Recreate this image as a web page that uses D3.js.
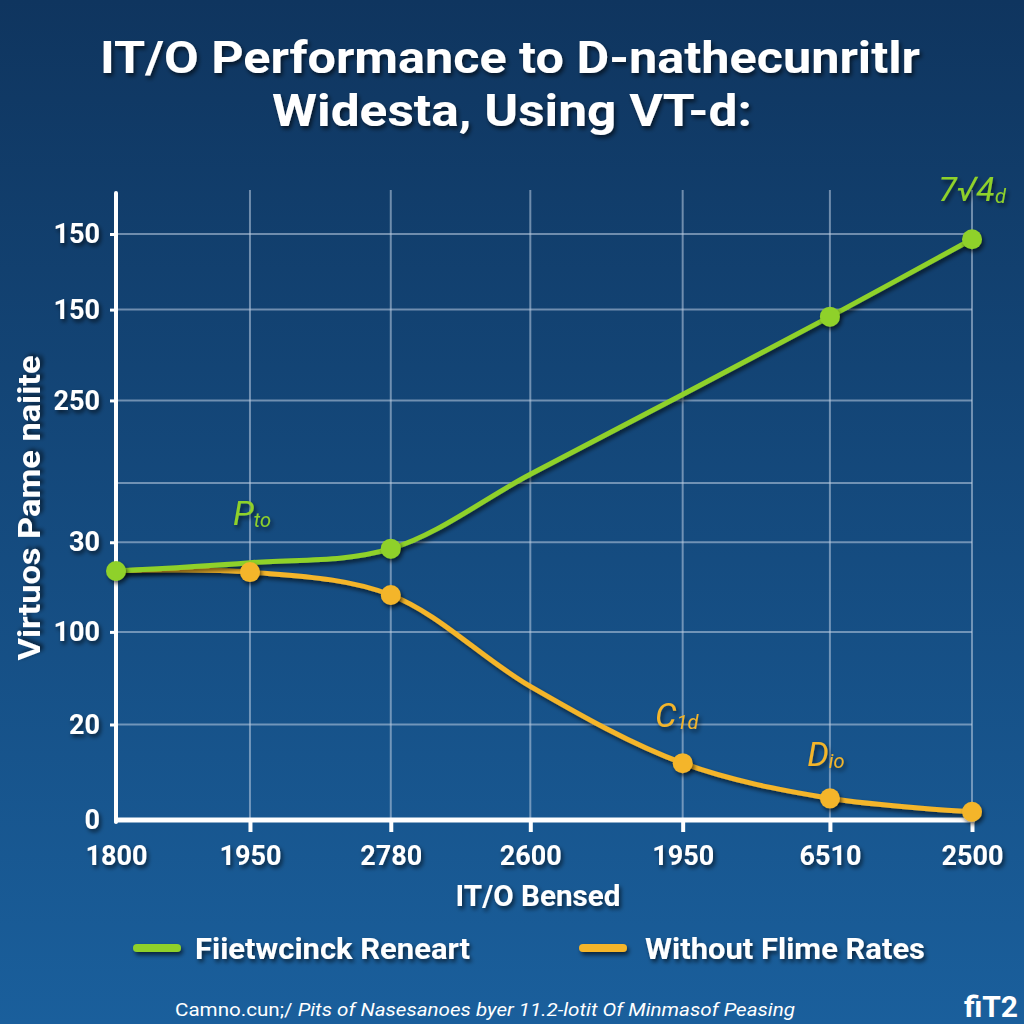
<!DOCTYPE html>
<html><head><meta charset="utf-8">
<script src="https://cdn.jsdelivr.net/npm/d3@7"></script>
<style>html,body{margin:0;padding:0;background:#134070}svg{display:block}</style>
</head><body>
<script>
// ---- data ----
const xLabels = ["1800","1950","2780","2600","1950","6510","2500"];
const xPos = [0, 15.65, 32.1, 48.4, 66.2, 83.4, 100];          // positions along the axis
const yTickLabels = ["150","150","250","","30","100","20","0"];
const yTickPos = [100, 87.1, 71.6, 57.5, 47.4, 32.1, 16.3, 0];
const seriesNames = ["Fiietwcinck Reneart", "Without Flime Rates"];
const greenValues = [42.5, 43.9, 46.3, 59.0, 72.6, 85.9, 99.1];
const greenMarkers = [true, false, true, false, false, true, true];
const orangeValues = [42.5, 42.3, 38.4, 22.8, 9.7, 3.7, 1.4];
const orangeMarkers = [false, true, true, false, true, true, true];
const annotations = [
  {series:0, i:1, main:"P", sub:"to"},
  {series:0, i:6, main:"7\u221A4", sub:"d"},
  {series:1, i:4, main:"C", sub:"1d"},
  {series:1, i:5, main:"D", sub:"io"}
];

const W = 1024, H = 1024;
const GREEN = "#8fd12a", ORANGE = "#f4b52a";
const svg = d3.select("body").append("svg").attr("width", W).attr("height", H);
const defs = svg.append("defs");
const grad = defs.append("linearGradient").attr("id","bg").attr("x1",0).attr("y1",0).attr("x2",0).attr("y2",1);
grad.append("stop").attr("offset","0%").attr("stop-color","#0f355f");
grad.append("stop").attr("offset","100%").attr("stop-color","#1a5f9c");
const sh = defs.append("filter").attr("id","sh").attr("filterUnits","userSpaceOnUse")
  .attr("x",-2*W).attr("y",-2*H).attr("width",5*W).attr("height",5*H);
sh.append("feDropShadow").attr("dx",2).attr("dy",3).attr("stdDeviation",2).attr("flood-color","#000").attr("flood-opacity",0.6);
svg.append("rect").attr("width",W).attr("height",H).attr("fill","url(#bg)");

const FONT = "Roboto, 'Liberation Sans', sans-serif";
const x = d3.scaleLinear().domain([0,100]).range([116, 972]);
const y = d3.scaleLinear().domain([0,100]).range([820, 234]);

// title
const title = svg.append("g").attr("filter","url(#sh)").attr("fill","#fff")
  .attr("font-family",FONT).attr("font-weight",700).attr("font-size",45).attr("text-anchor","middle");
title.append("text").attr("x",510).attr("y",73).attr("textLength",820).attr("lengthAdjust","spacingAndGlyphs")
  .text("IT/O Performance to D-nathecunritlr");
title.append("text").attr("x",512).attr("y",126).attr("textLength",480).attr("lengthAdjust","spacingAndGlyphs")
  .text("Widesta, Using VT-d:");

// grid
const grid = svg.append("g").attr("stroke","rgba(190,205,225,0.55)").attr("stroke-width",2);
grid.selectAll("line.h").data(yTickPos.filter(v=>v>0)).join("line")
  .attr("x1",x(0)).attr("x2",x(100)).attr("y1",d=>y(d)).attr("y2",d=>y(d));
grid.selectAll("line.v").data(xPos.slice(1)).join("line")
  .attr("x1",d=>x(d)).attr("x2",d=>x(d)).attr("y1",190).attr("y2",y(0));

// axes
const yAxis = d3.axisLeft(y).tickValues(yTickPos).tickFormat((d,i)=>yTickLabels[i]).tickSize(6).tickPadding(10);
const ya = svg.append("g").attr("transform",`translate(${x(0)},0)`).call(yAxis);
ya.select(".domain").remove();
ya.selectAll(".tick line").attr("stroke","#fff").attr("stroke-width",3);
ya.selectAll(".tick").filter((d,i)=>d===0 || yTickLabels[i]==="").select("line").remove();
ya.selectAll("text").attr("fill","#fff").attr("font-family",FONT).attr("font-weight",700).attr("font-size",27).attr("filter","url(#sh)");
svg.append("line").attr("x1",x(0)).attr("x2",x(0)).attr("y1",193).attr("y2",y(0)+2).attr("stroke","#fff").attr("stroke-width",4).attr("stroke-linecap","round");

const xAxis = d3.axisBottom(x).tickValues(xPos).tickFormat((d,i)=>xLabels[i]).tickSize(12).tickPadding(14);
const xa = svg.append("g").attr("transform",`translate(0,${y(0)})`).call(xAxis);
xa.select(".domain").remove();
xa.selectAll(".tick line").attr("stroke","#fff").attr("stroke-width",4);
xa.selectAll(".tick").filter(d=>d===0).select("line").remove();
xa.selectAll("text").attr("fill","#fff").attr("font-family",FONT).attr("font-weight",700).attr("font-size",27).attr("filter","url(#sh)");
svg.append("line").attr("x1",x(0)-2).attr("x2",x(100)+3).attr("y1",y(0)).attr("y2",y(0)).attr("stroke","#fff").attr("stroke-width",5);

// axis titles
svg.append("text").attr("transform","translate(40,508) rotate(-90)").attr("text-anchor","middle")
  .attr("fill","#fff").attr("font-family",FONT).attr("font-weight",700).attr("font-size",31).attr("filter","url(#sh)")
  .attr("textLength",305).attr("lengthAdjust","spacingAndGlyphs")
  .text("Virtuos Pame naiite");
svg.append("text").attr("x",538).attr("y",906).attr("text-anchor","middle")
  .attr("fill","#fff").attr("font-family",FONT).attr("font-weight",700).attr("font-size",30).attr("filter","url(#sh)")
  .attr("textLength",165).attr("lengthAdjust","spacingAndGlyphs")
  .text("IT/O Bensed");

// lines
const line = d3.line().x((d,i)=>x(xPos[i])).y(d=>y(d)).curve(d3.curveCatmullRom.alpha(0.5));
const series = [
  {vals: orangeValues, markers: orangeMarkers, color: ORANGE},
  {vals: greenValues, markers: greenMarkers, color: GREEN}
];
series.forEach(s=>{
  svg.append("path").attr("d",line(s.vals)).attr("fill","none").attr("stroke",s.color)
    .attr("stroke-width",5).attr("filter","url(#sh)");
});
series.forEach(s=>{
  svg.append("g").selectAll("circle").data(s.vals.map((v,i)=>({v,i})).filter(d=>s.markers[d.i])).join("circle")
    .attr("cx",d=>x(xPos[d.i])).attr("cy",d=>y(d.v)).attr("r",10).attr("fill",s.color).attr("filter","url(#sh)");
});

// annotations
const annOffset = [{dx:2,dy:-38},{dx:0,dy:-38},{dx:-6,dy:-36},{dx:-4,dy:-32}];
annotations.forEach((a,k)=>{
  const vals = a.series===0 ? greenValues : orangeValues;
  const col = a.series===0 ? GREEN : ORANGE;
  const t = svg.append("text").attr("x",x(xPos[a.i])+annOffset[k].dx).attr("y",y(vals[a.i])+annOffset[k].dy)
    .attr("text-anchor","middle").attr("fill",col).attr("font-family",FONT).attr("font-style","italic")
    .attr("font-size",34).attr("filter","url(#sh)");
  t.append("tspan").text(a.main);
  t.append("tspan").attr("font-size",20).attr("dy",2).text(a.sub);
});

// legend
const lg = svg.append("g").attr("font-family",FONT).attr("font-weight",700).attr("font-size",29).attr("fill","#fff");
[[GREEN,137,195,275],[ORANGE,583,645,280]].forEach((c,i)=>{
  lg.append("line").attr("x1",c[1]).attr("x2",c[1]+40).attr("y1",948).attr("y2",948)
    .attr("stroke",c[0]).attr("stroke-width",8).attr("stroke-linecap","round").attr("filter","url(#sh)");
  lg.append("text").attr("x",c[2]).attr("y",959).attr("filter","url(#sh)")
    .attr("textLength",c[3]).attr("lengthAdjust","spacingAndGlyphs").text(seriesNames[i]);
});

// footer
const ft = svg.append("text").attr("x",175).attr("y",1016).attr("fill","#fff").attr("font-family",FONT)
  .attr("font-size",19).attr("textLength",620).attr("lengthAdjust","spacingAndGlyphs");
ft.append("tspan").text("Camno.cun;/ ");
ft.append("tspan").attr("font-style","italic").text("Pits of Nasesanoes byer 11.2-lotit Of Minmasof Peasing");
svg.append("text").attr("x",1018).attr("y",1017).attr("text-anchor","end").attr("fill","#fff")
  .attr("font-family",FONT).attr("font-weight",700).attr("font-size",30).text("fiT2");
</script>
</body></html>
